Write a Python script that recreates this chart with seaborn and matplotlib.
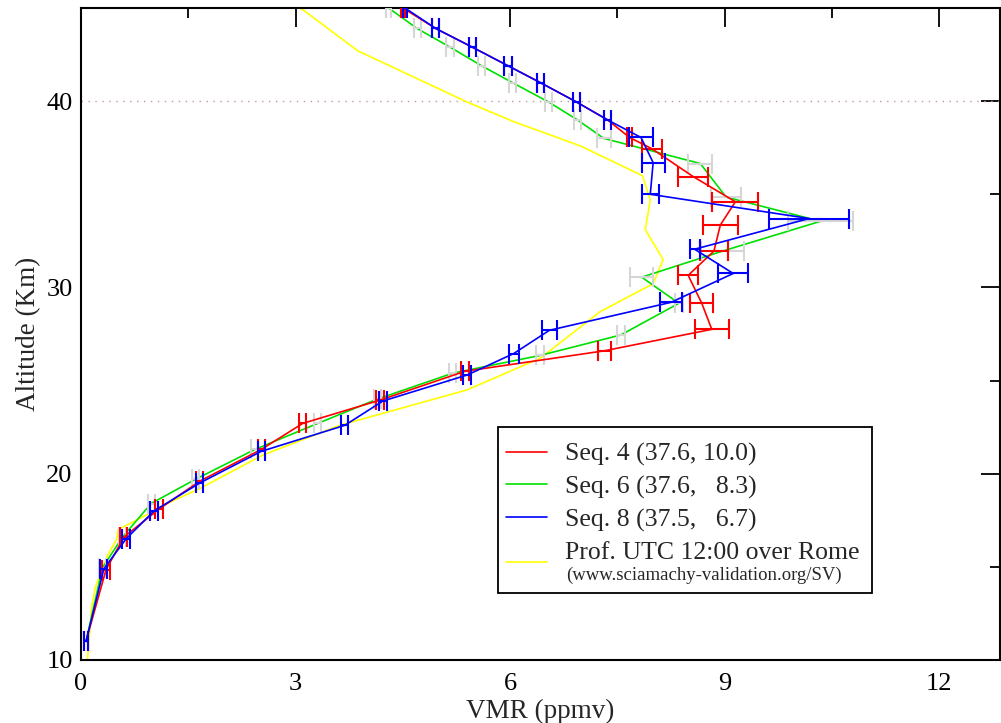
import numpy as np
import pandas as pd
import matplotlib
matplotlib.use("Agg")
import matplotlib.pyplot as plt
from matplotlib.patches import Rectangle
import seaborn as sns

# ---------------- data ----------------
# Seq. 4 (red)
seq4_alt = [45.0, 43.9, 42.9, 41.9, 41.0, 39.95, 39.0, 38.05, 37.45, 35.95, 34.6, 33.35, 31.95,
            30.65, 29.15, 27.75, 26.6, 25.5, 23.95, 22.7, 21.3, 19.6, 18.1, 16.6, 14.85, 11.0]
seq4_vmr = [4.50, 4.96, 5.47, 5.97, 6.42, 6.93, 7.36, 7.67, 7.98, 8.56, 9.15, 8.94, 8.85,
            8.49, 8.68, 8.82, 7.32, 5.37, 4.18, 3.10, 2.52, 1.66, 1.09, 0.60, 0.35, 0.07]
seq4_err = [0.03, 0.05, 0.05, 0.05, 0.05, 0.05, 0.05, 0.03, 0.14, 0.21, 0.32, 0.24, 0.19,
            0.14, 0.16, 0.24, 0.09, 0.05, 0.05, 0.05, 0.05, 0.05, 0.05, 0.05, 0.05, 0.03]

# Seq. 6 (green, grey error bars)
seq6_alt = [45.0, 43.9, 42.9, 41.9, 41.0, 39.95, 39.0, 38.0, 36.65, 34.85, 33.55, 31.95,
            30.55, 29.15, 27.45, 26.35, 25.4, 24.0, 22.7, 21.3, 19.7, 18.4, 16.6, 14.95, 11.0]
seq6_vmr = [4.30, 4.70, 5.16, 5.60, 6.03, 6.54, 6.94, 7.31, 8.66, 9.02, 10.34, 8.97,
            7.84, 8.36, 7.55, 6.42, 5.20, 4.14, 3.31, 2.43, 1.60, 0.98, 0.58, 0.30, 0.07]
seq6_err = [0.03, 0.05, 0.05, 0.05, 0.05, 0.05, 0.05, 0.10, 0.17, 0.21, 0.46, 0.30,
            0.16, 0.06, 0.06, 0.06, 0.05, 0.05, 0.05, 0.05, 0.05, 0.05, 0.05, 0.05, 0.03]

# Seq. 8 (blue)
seq8_alt = [45.0, 43.9, 42.9, 41.9, 41.0, 39.95, 39.0, 38.05, 36.7, 35.0, 33.7, 32.05,
            30.75, 29.2, 27.7, 26.45, 25.3, 23.9, 22.6, 21.2, 19.5, 18.0, 16.5, 14.9, 11.0]
seq8_vmr = [4.53, 4.96, 5.47, 5.97, 6.42, 6.93, 7.36, 7.83, 8.00, 7.96, 10.18, 8.58,
            9.12, 8.25, 6.55, 6.05, 5.40, 4.22, 3.69, 2.52, 1.66, 1.02, 0.63, 0.32, 0.07]
seq8_err = [0.03, 0.05, 0.05, 0.05, 0.05, 0.05, 0.05, 0.17, 0.16, 0.12, 0.56, 0.07,
            0.21, 0.16, 0.10, 0.07, 0.06, 0.06, 0.05, 0.05, 0.05, 0.05, 0.05, 0.05, 0.03]

# Prof. UTC 12:00 over Rome (yellow)
prof_alt = [45.2, 42.7, 39.95, 38.9, 37.6, 36.0, 34.7, 33.1, 31.5, 30.2, 28.7, 26.2, 24.5,
            22.6, 21.0, 19.2, 18.2, 17.9, 17.0, 16.5, 15.6, 13.9, 12.85, 10.0]
prof_vmr = [3.00, 3.87, 5.40, 6.05, 6.98, 7.85, 7.96, 7.89, 8.14, 8.00, 7.26, 6.42, 5.40,
            3.62, 2.54, 1.66, 1.09, 0.97, 0.52, 0.50, 0.37, 0.20, 0.15, 0.09]

labels = ["Seq. 4 (37.6, 10.0)", "Seq. 6 (37.6,   8.3)", "Seq. 8 (37.5,   6.7)",
          "Prof. UTC 12:00 over Rome"]
sub_label = "(www.sciamachy-validation.org/SV)"
x_ticks = [0, 3, 6, 9, 12]
y_ticks = [10, 20, 30, 40]

# ---------------- style ----------------
sns.set_style("white")
plt.rcParams["font.family"] = ["Liberation Serif", "DejaVu Serif"]

fig = plt.figure(figsize=(10.01, 7.23), dpi=100)
L, R, B, T = 81 / 1001, 1000 / 1001, (723 - 660) / 723, (723 - 8) / 723
ax = fig.add_axes([L, B, R - L, T - B])

RED, GREEN, BLUE, YELLOW, GREY = "#ff0000", "#00e000", "#0000ff", "#ffff00", "#d6d6d6"

ax.axhline(40, color="#c49a9a", lw=1.0, ls=(0, (1, 4)), zorder=1)

def draw(alt, vmr, color, err=None, ecolor=None, z=2, label=None):
    df = pd.DataFrame({"alt": alt, "vmr": vmr})
    sns.lineplot(data=df, x="vmr", y="alt", sort=False, estimator=None, color=color,
                 lw=1.2, ax=ax, zorder=z, label=label)
    if err is not None:
        ax.errorbar(vmr, alt, xerr=err, fmt="none", ecolor=ecolor or color, elinewidth=1.5,
                    capsize=7.5, capthick=1.5, zorder=z)

draw(prof_alt, prof_vmr, YELLOW, z=2, label=labels[3])
draw(seq6_alt, seq6_vmr, GREEN, seq6_err, GREY, z=3, label=labels[1])
draw(seq4_alt, seq4_vmr, RED, seq4_err, z=4, label=labels[0])
draw(seq8_alt, seq8_vmr, BLUE, seq8_err, z=5, label=labels[2])

ax.set_xlim(0, 12.85)
ax.set_ylim(10, 45)
ax.set_xticks(x_ticks)
ax.set_xticks([1.5, 4.5, 7.5, 10.5], minor=True)
ax.set_yticks(y_ticks)
ax.set_yticks([15, 25, 35], minor=True)
ax.tick_params(which="both", direction="in", top=True, right=True, labelsize=19,
               width=1.3, colors="black")
ax.tick_params(which="major", length=13.5)
ax.tick_params(which="minor", length=7)
ax.tick_params(axis="x", pad=9)
ax.tick_params(axis="y", pad=6)
for s in ax.spines.values():
    s.set_color("black")
    s.set_linewidth(1.5)
ax.set_xlabel("VMR (ppmv)", fontsize=19.5, labelpad=3)
ax.set_ylabel("Altitude (Km)", fontsize=19.5, labelpad=4)

# legend frame (drawn as a box so the small second line fits inside)
def ax_x(px):
    return (px - 81) / 919.0

def ax_y(py):
    return (660 - py) / 652.0

ax.add_patch(Rectangle((ax_x(498), ax_y(593)), ax_x(872) - ax_x(498), ax_y(427) - ax_y(593),
                       transform=ax.transAxes, facecolor="white", edgecolor="black",
                       lw=1.3, zorder=6))

h, l = ax.get_legend_handles_labels()
order = [labels.index(x) for x in l]
hl = sorted(zip(order, h, l))
handles = [x[1] for x in hl]
texts = [x[2] for x in hl]
leg = ax.legend(handles, texts, loc="upper left", bbox_to_anchor=(ax_x(493), ax_y(430)),
                fontsize=18.5, frameon=False, handlelength=1.6,
                handletextpad=0.7, borderpad=0.5, labelspacing=0.36, borderaxespad=0)
leg.set_zorder(7)
for line in leg.get_lines():
    line.set_linewidth(1.2)
# the yellow handle sits between the two lines of its label
yl = leg.get_lines()[3]
yd = np.asarray(yl.get_ydata(), dtype=float)
yl.set_ydata(yd - 9.0)

ax.text(ax_x(566), ax_y(575), sub_label, transform=ax.transAxes, fontsize=13.5,
        ha="left", va="center", zorder=8)

fig.savefig("out.png", dpi=100)
